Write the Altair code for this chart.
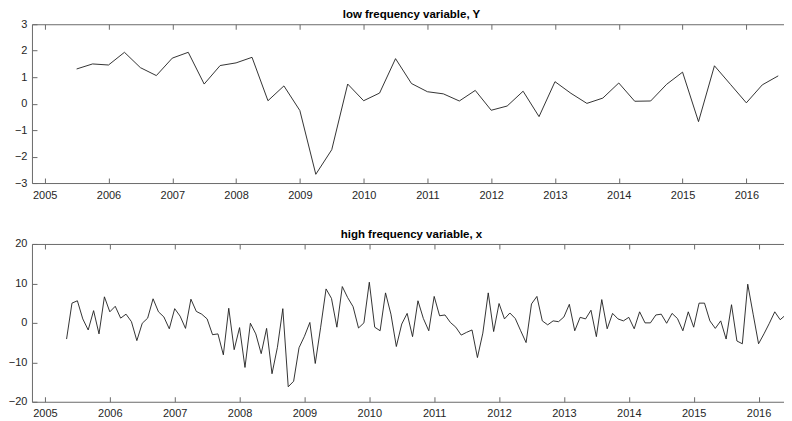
import altair as alt
import pandas as pd

# ---- data ----
# low frequency (quarterly) variable Y, starting 2005 Q3 (2005.5)
y_low = [1.31, 1.50, 1.46, 1.94, 1.36, 1.06, 1.72, 1.94, 0.74, 1.44, 1.54, 1.75,
         0.11, 0.67, -0.26, -2.67, -1.74, 0.74, 0.11, 0.40, 1.70, 0.76, 0.45, 0.37,
         0.10, 0.50, -0.25, -0.09, 0.47, -0.49, 0.83, 0.39, 0.01, 0.21, 0.78, 0.09,
         0.10, 0.73, 1.19, -0.68, 1.43, 0.73, 0.03, 0.71, 1.05]
low_start = 2005.5
low_step = 0.25

# high frequency (monthly) variable x, starting May 2005
x_high = [-4.1, 5.0, 5.6, 1.0, -1.8, 3.1, -2.8, 6.6, 2.8, 4.2, 1.2, 2.2,
          0.3, -4.5, -0.1, 1.2, 6.1, 2.8, 1.5, -1.5, 3.6, 1.7, -1.4, 6.0,
          2.9, 2.2, 1.0, -3.0, -2.8, -8.1, 3.7, -6.8, -1.2, -11.3, -0.1, -2.8,
          -7.8, -1.4, -12.9, -6.2, 3.6, -16.2, -14.8, -6.3, -3.4, 0.1, -10.3, -1.1,
          8.6, 6.2, -1.1, 9.2, 6.4, 4.1, -1.3, 0.0, 10.3, -1.1, -2.0, 7.6,
          2.2, -6.0, -0.3, 2.4, -3.5, 5.6, 1.1, -2.0, 6.7, 1.8, 2.0, 0.1,
          -1.1, -3.1, -2.4, -1.8, -8.8, -2.6, 7.6, -2.2, 4.9, 1.0, 2.5, 1.1,
          -2.0, -5.0, 4.8, 6.7, 0.5, -0.5, 0.5, 0.3, 1.5, 4.7, -2.0, 1.4,
          1.0, 3.2, -3.5, 5.9, -1.5, 2.4, 1.0, 0.5, 1.4, -1.5, 2.8, 0.0,
          0.0, 2.0, 2.2, -0.1, 2.4, 1.1, -2.0, 2.8, -1.1, 5.0, 5.0, 0.5,
          -1.4, 0.5, -4.1, 4.6, -4.6, -5.3, 9.8, 2.2, -5.3, -2.8, -0.1, 2.8,
          0.8, 2.0, -0.5]
high_start = 2005 + 4 / 12
high_step = 1 / 12

year_ticks = list(range(2005, 2017))
low_yticks = [-3, -2, -1, 0, 1, 2, 3]
high_yticks = [-20, -10, 0, 10, 20]

low_title = "low frequency variable, Y"
high_title = "high frequency variable, x"

df_low = pd.DataFrame({"t": [low_start + i * low_step for i in range(len(y_low))], "v": y_low})
df_high = pd.DataFrame({"t": [high_start + i * high_step for i in range(len(x_high))], "v": x_high})

LINE = "#1e1e1e"
FRAME = "#6a6a6a"
FONT = "Liberation Sans"
W = 760


def panel(df, title, xdom, ydom, yticks, w, h):
    base = alt.Chart(df)
    xs = alt.Scale(domain=xdom, nice=False, zero=False)
    ys = alt.Scale(domain=ydom, nice=False, zero=False)
    lab = base.mark_line(color=LINE, strokeWidth=0.9).encode(
        x=alt.X("t:Q", scale=xs, title=None,
                axis=alt.Axis(values=year_ticks, format="d", orient="bottom", ticks=False,
                              domain=False, grid=False, labelPadding=6,
                              minExtent=18, maxExtent=18)),
        y=alt.Y("v:Q", scale=ys, title=None,
                axis=alt.Axis(values=yticks, format="d", orient="left", ticks=False,
                              domain=False, grid=False, labelPadding=5,
                              minExtent=24, maxExtent=24)),
    )
    tick_axis = dict(labels=False, domain=False, ticks=True, tickSize=5,
                     tickColor=FRAME, tickWidth=1, grid=False, minExtent=0, maxExtent=0)
    t1 = base.mark_line(opacity=0).encode(
        x=alt.X("t:Q", scale=xs, title=None,
                axis=alt.Axis(values=year_ticks, orient="top", offset=-h, **tick_axis)),
        y=alt.Y("v:Q", scale=ys, title=None,
                axis=alt.Axis(values=yticks, orient="right", offset=-w, **tick_axis)),
    )
    t2 = base.mark_line(opacity=0).encode(
        x=alt.X("t:Q", scale=xs, title=None,
                axis=alt.Axis(values=year_ticks, orient="bottom", offset=-h, **tick_axis)),
        y=alt.Y("v:Q", scale=ys, title=None,
                axis=alt.Axis(values=yticks, orient="left", offset=-w, **tick_axis)),
    )
    return (
        alt.layer(lab, t1, t2)
        .resolve_axis(x="independent", y="independent")
        .properties(width=w, height=h,
                    title=alt.TitleParams(title, fontSize=11.5, fontWeight="bold", font=FONT,
                                          color="#000000", anchor="middle", offset=-2.5))
    )


top = panel(df_low, low_title, [2004.8, 2016.7], [-3, 3], low_yticks, W, 159)
bottom = panel(df_high, high_title, [2004.8, 2016.5], [-20, 20], high_yticks, W, 158)

chart = (
    alt.vconcat(top, bottom, spacing=26)
    .properties(padding={"left": -1, "top": 0, "right": -10, "bottom": 0}, background="white")
    .configure_view(stroke=FRAME, strokeWidth=1)
    .configure_axis(labelFont=FONT, labelFontSize=11, labelColor="#262626")
    .configure_title(font=FONT)
)

chart.save("out.html", embed_options={"renderer": "svg", "actions": False})
